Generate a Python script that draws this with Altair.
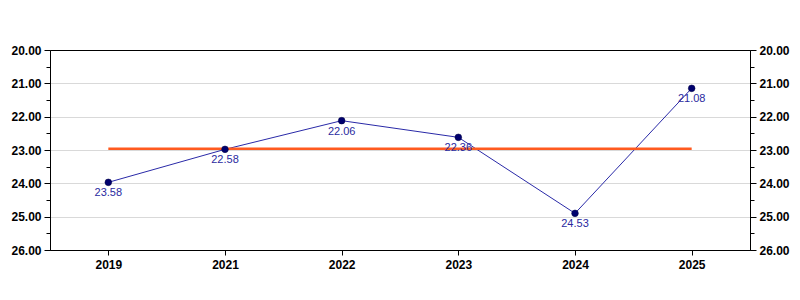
import altair as alt
import pandas as pd

years = ["2019", "2021", "2022", "2023", "2024", "2025"]
values = [23.97, 22.98, 22.12, 22.62, 24.90, 21.15]
labels = ["23.58", "22.58", "22.06", "22.36", "24.53", "21.08"]
avg_value = 22.96
tick_values = [20 + 0.5 * i for i in range(13)]

df = pd.DataFrame({"year": years, "value": values, "label": labels})
rule_df = pd.DataFrame({"start": [years[0]], "end": [years[-1]], "avg": [avg_value]})

FONT = "Liberation Sans"

yscale = alt.Scale(domain=[20, 26], reverse=True, nice=False, zero=False)
xscale = alt.Scale(type="point", padding=0.5)

def y_axis(orient, grid):
    return alt.Axis(
        orient=orient,
        values=tick_values,
        title=None,
        grid=grid,
        gridColor="#d9d9d9",
        gridWidth=1,
        gridOpacity={"condition": {"test": "datum.value % 1 !== 0 || datum.value == 20 || datum.value == 26", "value": 0}, "value": 1},
        labelExpr="datum.value % 1 === 0 ? format(datum.value, '.2f') : ''",
        tickSize={"condition": {"test": "datum.value % 1 !== 0", "value": 4}, "value": 6},
        tickColor="black",
        domainColor="black",
        labelFont=FONT,
        labelFontSize=12,
        labelFontWeight="bold",
        labelColor="black",
        labelPadding=3,
        labelFlush=False,
        labelOverlap=False,
    )

x_axis = alt.Axis(
    title=None,
    labelAngle=0,
    grid=False,
    tickSize=5,
    tickColor="black",
    domainColor="black",
    labelFont=FONT,
    labelFontSize=12,
    labelFontWeight="bold",
    labelColor="black",
    labelPadding=4,
)

base = alt.Chart(df)

left_axis_layer = base.mark_point(opacity=0).encode(
    x=alt.X("year:O", scale=xscale, axis=x_axis, sort=years),
    y=alt.Y("value:Q", scale=yscale, axis=y_axis("left", True)),
)

line = base.mark_line(color="#2a2aa8", strokeWidth=1).encode(
    x=alt.X("year:O", scale=xscale, axis=x_axis, sort=years),
    y=alt.Y("value:Q", scale=yscale, axis=None),
)

rule = alt.Chart(rule_df).mark_rule(color="#ff5a1f", strokeWidth=2.5).encode(
    x=alt.X("start:O", scale=xscale, axis=x_axis, sort=years),
    x2="end:O",
    y=alt.Y("avg:Q", scale=yscale, axis=None),
)

points = base.mark_circle(color="#00006e", opacity=1, size=45, stroke="#000040", strokeWidth=0.5).encode(
    x=alt.X("year:O", scale=xscale, axis=x_axis, sort=years),
    y=alt.Y("value:Q", scale=yscale, axis=None),
)

text = base.mark_text(color="#2a2aa0", font=FONT, fontSize=11, baseline="middle", dy=11).encode(
    x=alt.X("year:O", scale=xscale, axis=x_axis, sort=years),
    y=alt.Y("value:Q", scale=yscale, axis=None),
    text="label:N",
)

right = base.mark_point(opacity=0).encode(
    x=alt.X("year:O", scale=xscale, axis=x_axis, sort=years),
    y=alt.Y("value:Q", scale=yscale, axis=y_axis("right", False)),
)

chart = (
    alt.layer(left_axis_layer, line, rule, points, text, right)
    .resolve_scale(y="independent")
    .properties(
        width=700,
        height=200,
        autosize=alt.AutoSizeParams(type="none"),
        padding={"left": 50, "top": 50, "right": 50, "bottom": 50},
        background="white",
    )
    .configure_view(stroke="black", strokeWidth=1)
)

chart.save("out.html", embed_options={"renderer": "svg", "actions": False})
